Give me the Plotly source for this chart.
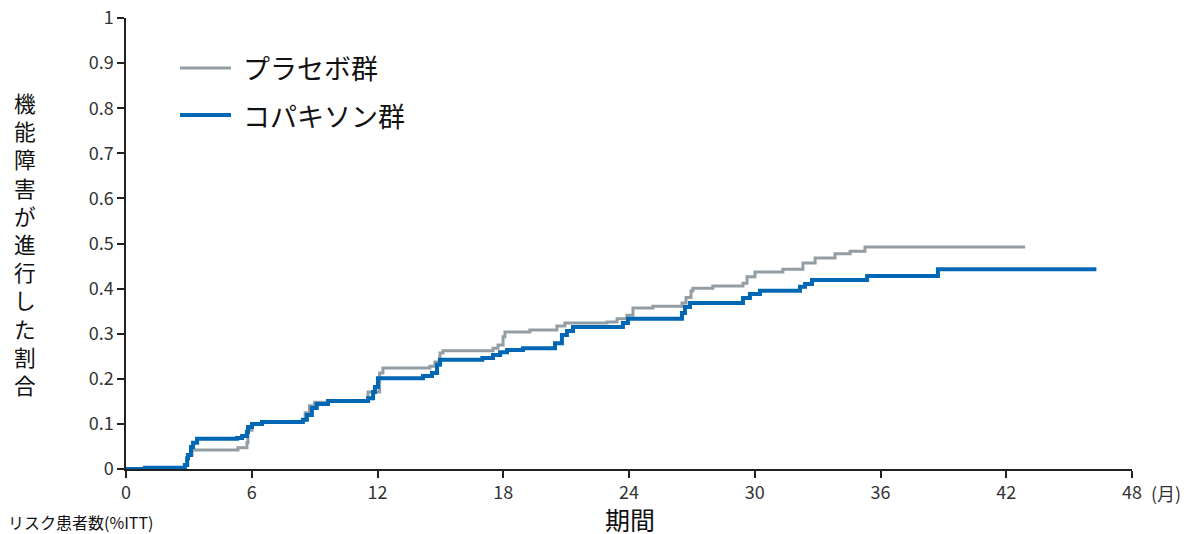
import plotly.graph_objects as go

# プラセボ群 (placebo) step data: months, cumulative proportion
placebo_t = [0, 0.9, 2.81, 2.92, 2.96, 3.15, 5.34, 5.77, 5.82, 6.01, 6.49, 8.44, 8.55, 8.75, 9.0, 9.64,
             11.55, 12.1, 12.26, 14.5, 14.74, 14.98, 15.12, 17.51, 17.75, 17.99, 18.08, 19.27, 20.56,
             20.94, 22.95, 23.43, 23.9, 24.19, 25.14, 26.53, 26.72, 26.96, 27.05, 28.0, 29.44, 29.63,
             30.01, 31.34, 32.3, 32.88, 33.83, 34.55, 35.26, 42.9]
placebo_v = [0, 0.003, 0.009, 0.024, 0.031, 0.042, 0.047, 0.058, 0.086, 0.100, 0.104, 0.109, 0.125, 0.140, 0.148, 0.151,
             0.171, 0.213, 0.224, 0.228, 0.237, 0.257, 0.262, 0.268, 0.275, 0.293, 0.304, 0.308, 0.317,
             0.324, 0.326, 0.333, 0.341, 0.357, 0.361, 0.368, 0.380, 0.395, 0.401, 0.406, 0.412, 0.426,
             0.437, 0.443, 0.457, 0.468, 0.477, 0.483, 0.492, 0.492]

# コパキソン群 (Copaxone) step data
copaxone_t = [0, 0.9, 2.81, 2.92, 2.96, 3.1, 3.2, 3.39, 5.3, 5.54, 5.77, 5.82, 6.01, 6.49, 8.44, 8.63, 8.87,
              9.1, 9.64, 11.55, 11.79, 11.88, 12.02, 14.17, 14.6, 14.84, 14.98, 17.0, 17.51, 17.85, 18.18,
              18.94, 20.47, 20.8, 21.04, 21.33, 23.71, 23.95, 26.53, 26.67, 26.91, 29.44, 29.77, 30.25,
              32.16, 32.4, 32.73, 35.36, 38.74, 46.3]
copaxone_v = [0, 0.003, 0.009, 0.024, 0.031, 0.049, 0.058, 0.067, 0.069, 0.073, 0.082, 0.093, 0.100, 0.104, 0.109, 0.120, 0.135,
              0.144, 0.151, 0.157, 0.171, 0.182, 0.201, 0.206, 0.213, 0.231, 0.242, 0.246, 0.253, 0.259, 0.264,
              0.268, 0.279, 0.297, 0.306, 0.315, 0.324, 0.333, 0.346, 0.359, 0.368, 0.379, 0.388, 0.395,
              0.404, 0.410, 0.419, 0.428, 0.443, 0.443]

x_ticks = [0, 6, 12, 18, 24, 30, 36, 42, 48]
y_ticks = [0, 0.1, 0.2, 0.3, 0.4, 0.5, 0.6, 0.7, 0.8, 0.9, 1]
y_tick_text = ["0", "0.1", "0.2", "0.3", "0.4", "0.5", "0.6", "0.7", "0.8", "0.9", "1"]

series_names = ["プラセボ群", "コパキソン群"]
y_title = "機能障害が進行した割合"
x_title = "期間"
x_unit = "(月)"
risk_label = "リスク患者数(%ITT)"

GRAY = "#939da4"
BLUE = "#0067b5"
FONT = "Noto Sans CJK JP"

# page has an 8px body margin; plot area sits at screen px x 126..1132, y 18..469
PW, PH = 1006, 451
SX0, SY0 = 126, 18


def px(sx):
    return (sx - SX0) / PW


def py(sy):
    return 1 - (sy - SY0) / PH


fig = go.Figure()
fig.add_trace(go.Scatter(x=placebo_t, y=placebo_v, mode="lines", line=dict(color=GRAY, width=3, shape="hv"),
                         name=series_names[0], showlegend=False))
fig.add_trace(go.Scatter(x=copaxone_t, y=copaxone_v, mode="lines", line=dict(color=BLUE, width=4, shape="hv"),
                         name=series_names[1], showlegend=False))

fig.update_layout(
    width=1183, height=526,
    margin=dict(l=118, r=1183 - 118 - PW, t=10, b=526 - 10 - PH, autoexpand=False),
    paper_bgcolor="white", plot_bgcolor="white",
    font=dict(family=FONT, color="#222"),
    showlegend=False,
    xaxis=dict(range=[0, 48], tickvals=x_ticks, ticktext=[str(v) for v in x_ticks], automargin=False,
               ticklabeloverflow="allow",
               showgrid=False, zeroline=False, showline=True, linecolor="#222", linewidth=1.5,
               ticks="outside", ticklen=7, tickwidth=1.5, tickcolor="#222",
               tickfont=dict(size=18, family=FONT, color="#333")),
    yaxis=dict(range=[0, 1], tickvals=y_ticks, ticktext=y_tick_text, automargin=False,
               ticklabeloverflow="allow",
               showgrid=False, zeroline=False, showline=True, linecolor="#222", linewidth=1.5,
               ticks="outside", ticklen=7, tickwidth=1.5, tickcolor="#222",
               tickfont=dict(size=18, family=FONT, color="#333")),
)

# legend (drawn manually)
for i, (name, col, w) in enumerate([(series_names[0], GRAY, 3), (series_names[1], BLUE, 4)]):
    yy = py(68 + 47 * i)
    fig.add_shape(type="line", xref="paper", yref="paper",
                  x0=px(180), x1=px(231), y0=yy, y1=yy, line=dict(color=col, width=w))
    fig.add_annotation(xref="paper", yref="paper", x=px(241), y=yy, xanchor="left", yanchor="middle",
                       text=name, showarrow=False, font=dict(size=27, family=FONT, color="#111"))

# y axis title, vertical upright characters (one per line)
fig.add_annotation(xref="paper", yref="paper", x=px(25), y=py(243),
                   xanchor="center", yanchor="middle", text="<br>".join(y_title), showarrow=False,
                   font=dict(size=21.7, family=FONT, color="#111"))

# x axis title
fig.add_annotation(xref="paper", yref="paper", x=px(630), y=py(518.5),
                   xanchor="center", yanchor="middle", text=x_title, showarrow=False, borderpad=0,
                   font=dict(size=25, family=FONT, color="#111"))

# unit label
fig.add_annotation(xref="paper", yref="paper", x=px(1149), y=py(493),
                   xanchor="left", yanchor="middle", text=x_unit, showarrow=False,
                   font=dict(size=18, family=FONT, color="#333"))

# at-risk label
fig.add_annotation(xref="paper", yref="paper", x=px(6), y=py(522),
                   xanchor="left", yanchor="middle", text=risk_label, showarrow=False,
                   font=dict(size=16, family=FONT, color="#111"))

fig.write_html("out.html")
